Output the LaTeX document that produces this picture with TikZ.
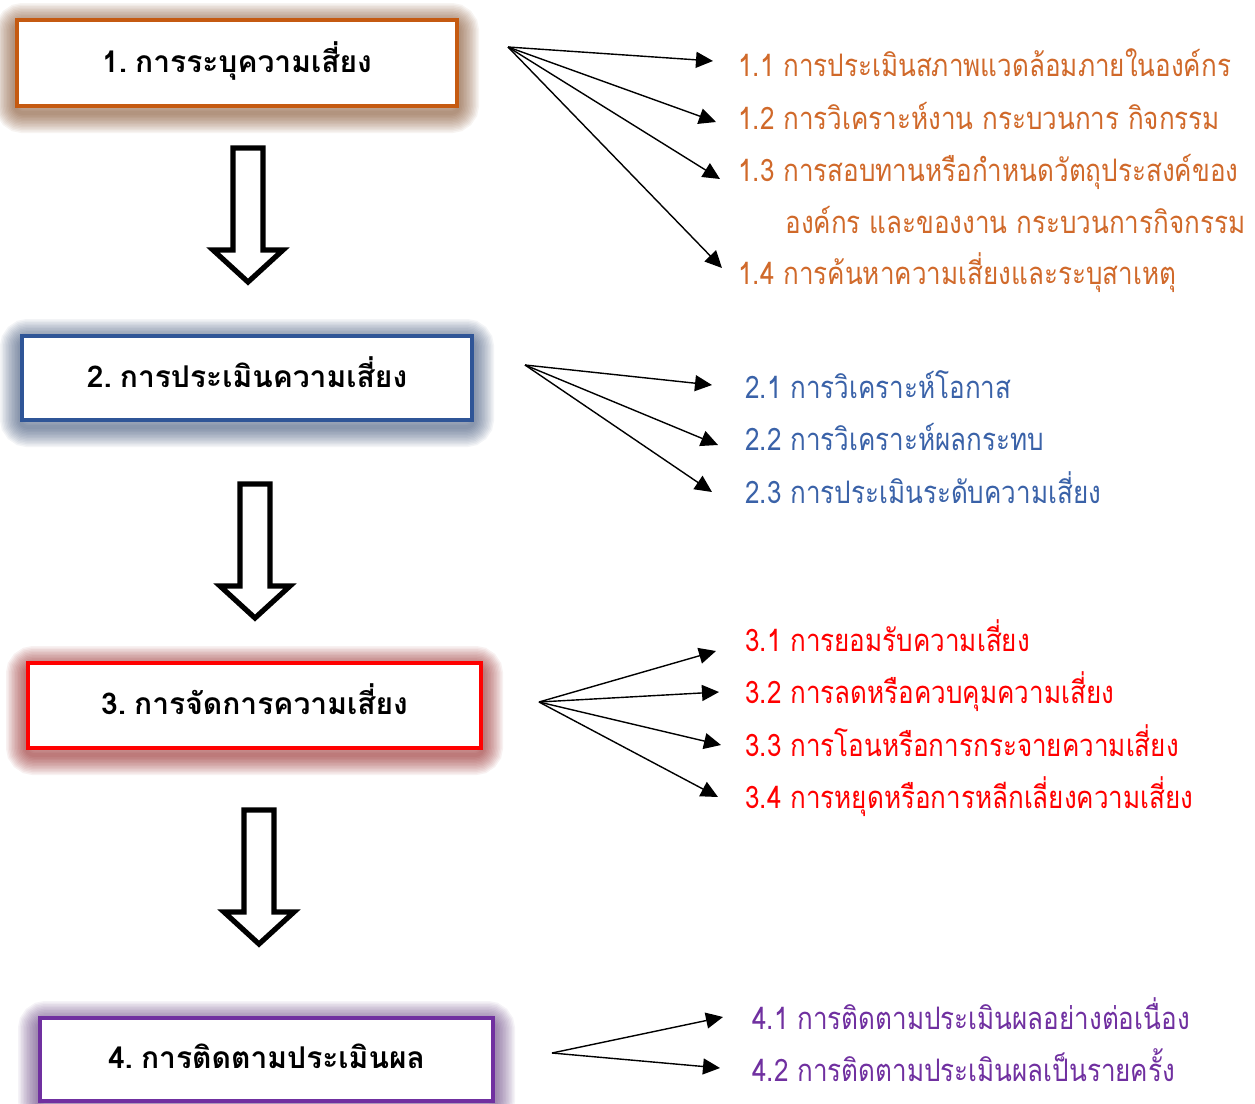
\documentclass[tikz,border=0pt]{standalone}
\usepackage{fontspec}
\newfontfamily\thai[Script=Thai]{Loma}
\newfontfamily\thaic[Script=Thai, FakeStretch=0.84]{Loma}
\usetikzlibrary{arrows.meta,backgrounds}
\definecolor{corange}{HTML}{C55A11}
\definecolor{torange}{HTML}{D0692A}
\definecolor{cblue}{HTML}{2F5597}
\definecolor{tblue}{HTML}{3A62A8}
\definecolor{cred}{HTML}{FF0000}
\definecolor{cpurple}{HTML}{7030A0}
\begin{document}
\begin{tikzpicture}[x=0.5pt,y=-0.5pt,
  box/.style={draw, line width=2pt, fill=white, inner sep=0pt, text height=9pt, text depth=0pt,
    font=\thai\bfseries\fontsize{15}{18}\selectfont},
  item/.style={anchor=west, inner sep=0pt, text height=11pt, text depth=0pt,
    font=\thaic\fontsize{15.5}{18}\selectfont},
  fan/.style={line width=0.7pt, -{Triangle[length=8.5pt,width=8pt]}},
  bigarrow/.style={line width=2.6pt, fill=white, line join=miter},
  downarrow/.pic={\draw[bigarrow] (-15,0) -- (15,0) -- (15,102) -- (35,102) -- (0,134) -- (-35,102) -- (-15,102) -- cycle;}]
\useasboundingbox (0,0) rectangle (1255,1104);

% boxes
\node[box, draw=corange, minimum width=220pt, minimum height=43pt] (b1) at (237,63) {1.\hspace{4pt}การระบุความเสี่ยง};
\node[box, draw=cblue, minimum width=225pt, minimum height=42pt] (b2) at (247,378) {2.\hspace{4pt}การประเมินความเสี่ยง};
\node[box, draw=cred, minimum width=226.5pt, minimum height=42.5pt] (b3) at (254.5,705.5) {3.\hspace{4pt}การจัดการความเสี่ยง};
\node[box, draw=cpurple, minimum width=226.5pt, minimum height=41.5pt] (b4) at (266.5,1059.5) {4.\hspace{4pt}การติดตามประเมินผล};

% glows
\begin{scope}[on background layer]
\foreach \b/\c in {b1/corange!55!black, b2/cblue!65!black, b3/cred!50!black, b4/cpurple!65!black}{
  \foreach \w in {4,7,...,40}{
    \draw[line width=\w*0.5pt, draw=\c, opacity=0.055, rounded corners=4pt]
      ([yshift=-2.5pt]\b.south west) rectangle ([yshift=-2.5pt]\b.north east);
  }
}
\end{scope}

% big down arrows
\pic at (248,148) {downarrow};
\pic at (255,484) {downarrow};
\pic at (259,810) {downarrow};

% fan origins
\coordinate (o1) at (508,47);
\coordinate (o2) at (525,365);
\coordinate (o3) at (539,702);
\coordinate (o4) at (552,1053);

% items
\begin{scope}[every node/.append style={text=torange}]
\node[item] (t11) at (738,65) {1.1 การประเมินสภาพแวดล้อมภายในองค์กร};
\node[item] (t12) at (738,118) {1.2 การวิเคราะห์งาน กระบวนการ กิจกรรม};
\node[item] (t13) at (738,170) {1.3 การสอบทานหรือกำหนดวัตถุประสงค์ของ};
\node[item] (t13b) at (785,222) {องค์กร และของงาน กระบวนการกิจกรรม};
\node[item] (t14) at (738,273) {1.4 การค้นหาความเสี่ยงและระบุสาเหตุ};
\end{scope}
\begin{scope}[every node/.append style={text=tblue}]
\node[item] (t21) at (745,387) {2.1 การวิเคราะห์โอกาส};
\node[item] (t22) at (745,439) {2.2 การวิเคราะห์ผลกระทบ};
\node[item] (t23) at (745,492) {2.3 การประเมินระดับความเสี่ยง};
\end{scope}
\begin{scope}[every node/.append style={text=cred}]
\node[item] (t31) at (745,640) {3.1 การยอมรับความเสี่ยง};
\node[item] (t32) at (745,692) {3.2 การลดหรือควบคุมความเสี่ยง};
\node[item] (t33) at (745,745) {3.3 การโอนหรือการกระจายความเสี่ยง};
\node[item] (t34) at (745,797) {3.4 การหยุดหรือการหลีกเลี่ยงความเสี่ยง};
\end{scope}
\begin{scope}[every node/.append style={text=cpurple}]
\node[item] (t41) at (752,1018) {4.1 การติดตามประเมินผลอย่างต่อเนื่อง};
\node[item] (t42) at (752,1070) {4.2 การติดตามประเมินผลเป็นรายครั้ง};
\end{scope}

% arrow tips next to the items
\coordinate (p11) at (713,61);
\coordinate (p12) at (716,122);
\coordinate (p13) at (720,179);
\coordinate (p14) at (722,268);
\coordinate (p21) at (712,385);
\coordinate (p22) at (718,445);
\coordinate (p23) at (712,492);
\coordinate (p31) at (716,651);
\coordinate (p32) at (719,692);
\coordinate (p33) at (721,745);
\coordinate (p34) at (718,797);
\coordinate (p41) at (723,1017);
\coordinate (p42) at (720,1068);

% fans
\foreach \t in {p11,p12,p13,p14} \draw[fan] (o1) -- (\t);
\foreach \t in {p21,p22,p23} \draw[fan] (o2) -- (\t);
\foreach \t in {p31,p32,p33,p34} \draw[fan] (o3) -- (\t);
\foreach \t in {p41,p42} \draw[fan] (o4) -- (\t);
\end{tikzpicture}
\end{document}
